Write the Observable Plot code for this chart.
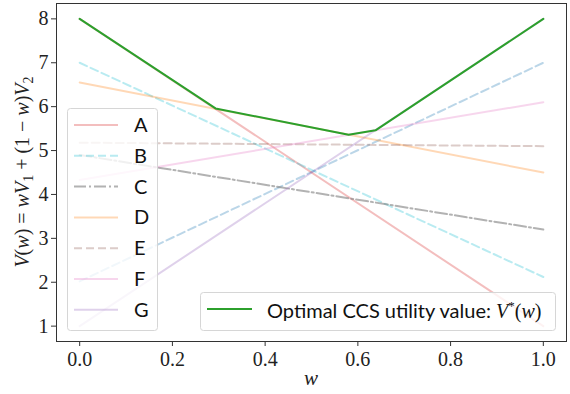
<!DOCTYPE html>
<html>
<head>
<meta charset="utf-8">
<script src="https://cdn.jsdelivr.net/npm/d3@7"></script>
<script src="https://cdn.jsdelivr.net/npm/@observablehq/plot@0.6"></script>
<style>
  html, body { margin: 0; padding: 0; background: white; }
  #chart svg { display: block; }
</style>
</head>
<body>
<div id="chart"></div>
<script>
// ---- data ----
const names    = ["A", "B", "C", "D", "E", "F", "G"];
const valueAt0 = [8.0, 7.0, 4.9, 6.55, 5.18, 4.33, 1.0];   // V(w) at w = 0
const valueAt1 = [1.0, 2.12, 3.2, 4.5, 5.1, 6.1, 8.0];    // V(w) at w = 1
const colors   = ["#d62728", "#17becf", "#7f7f7f", "#ff7f0e", "#8c564b", "#e377c2", "#9467bd"];
const opacities = [0.3, 0.3, 0.6, 0.3, 0.3, 0.3, 0.3];
const dashes   = [null, "8,4", "12,3,2,3", null, "8,4", null, null];

// unlabeled blue dashed policy
const extraAt0 = 2.02;
const extraAt1 = 7.0;

// optimal CCS upper envelope
const optW = [0, 0.293, 0.58, 0.638, 1];
const optV = [8.0, 5.96, 5.36, 5.46, 8.0];

const xTicks = [0, 0.2, 0.4, 0.6, 0.8, 1.0];
const yTicks = [1, 2, 3, 4, 5, 6, 7, 8];

// ---- tables ----
const policyRows = names.map((n, i) => [
  {name: n, w: 0, v: valueAt0[i]},
  {name: n, w: 1, v: valueAt1[i]}
]);
const extraRows = [{w: 0, v: extraAt0}, {w: 1, v: extraAt1}];
const optRows = optW.map((w, i) => ({w, v: optV[i]}));

const SANS = "Lato, 'Noto Sans', sans-serif";
const SERIF = "'Liberation Serif', 'DejaVu Serif', serif";

const marks = [];
marks.push(Plot.line(extraRows, {x: "w", y: "v", stroke: "#1f77b4", strokeOpacity: 0.3, strokeWidth: 2, strokeDasharray: "8,4"}));
names.forEach((n, i) => {
  marks.push(Plot.line(policyRows[i], {
    x: "w", y: "v", stroke: colors[i], strokeOpacity: opacities[i], strokeWidth: 2,
    strokeDasharray: dashes[i] || undefined
  }));
});
marks.push(Plot.line(optRows, {x: "w", y: "v", stroke: "#2ca02c", strokeWidth: 2}));
marks.push(Plot.frame({stroke: "#333", strokeWidth: 1}));
marks.push(Plot.axisX({ticks: xTicks, tickFormat: d => d.toFixed(1), tickSize: 5, tickPadding: 5, label: null, stroke: "#333", fontSize: 20, fontFamily: SERIF}));
marks.push(Plot.axisY({ticks: yTicks, tickFormat: d => String(d), tickSize: 5, tickPadding: 3, label: null, stroke: "#333", fontSize: 20, fontFamily: SERIF}));

const chart = Plot.plot({
  width: 570,
  height: 394,
  marginLeft: 56,
  marginRight: 4,
  marginTop: 3,
  marginBottom: 53,
  x: {domain: [-0.05, 1.05]},
  y: {domain: [0.65, 8.35]},
  style: {fontFamily: SERIF, fontSize: "20px", color: "#222", background: "white"},
  marks
});
document.getElementById("chart").appendChild(chart);

// ---- decorations: axis labels & legends ----
const svg = d3.select(chart);

// y label
const yl = svg.append("text")
  .attr("transform", "translate(29,172) rotate(-90)")
  .attr("text-anchor", "middle")
  .attr("font-family", SERIF)
  .attr("font-size", 20)
  .attr("fill", "#222");
function part(sel, txt, opts = {}) {
  const t = sel.append("tspan").text(txt);
  if (opts.italic) t.attr("font-style", "italic");
  if (opts.size) t.attr("font-size", opts.size);
  if (opts.dy) t.attr("dy", opts.dy);
  return t;
}
part(yl, "V", {italic: true});
part(yl, "(");
part(yl, "w", {italic: true});
part(yl, ") = ");
part(yl, "wV", {italic: true});
part(yl, "1", {size: 14, dy: 4});
part(yl, " + (1 − ", {dy: -4});
part(yl, "w", {italic: true});
part(yl, ")");
part(yl, "V", {italic: true});
part(yl, "2", {size: 14, dy: 4});

// x label
svg.append("text")
  .attr("x", 311).attr("y", 385)
  .attr("text-anchor", "middle")
  .attr("font-family", SERIF).attr("font-style", "italic")
  .attr("font-size", 21).attr("fill", "#222")
  .text("w");

// legend 1 (policies)
const lg = svg.append("g").attr("text-anchor", "start");
lg.append("rect")
  .attr("x", 67.5).attr("y", 108.5).attr("width", 90).attr("height", 222)
  .attr("rx", 3).attr("fill", "white").attr("fill-opacity", 0.8)
  .attr("stroke", "#d6d6d6").attr("stroke-width", 1);
names.forEach((n, i) => {
  const cy = 125 + i * 30.8;
  const l = lg.append("line")
    .attr("x1", 74).attr("x2", 118).attr("y1", cy).attr("y2", cy)
    .attr("stroke", colors[i]).attr("stroke-opacity", opacities[i]).attr("stroke-width", 2);
  if (dashes[i]) l.attr("stroke-dasharray", dashes[i]);
  lg.append("text")
    .attr("x", 134).attr("y", cy + 7)
    .attr("text-anchor", "start")
    .attr("font-family", SANS).attr("font-size", 20).attr("fill", "#111")
    .text(n);
});

// legend 2 (optimal)
const lg2 = svg.append("g").attr("text-anchor", "start");
lg2.append("rect")
  .attr("x", 200.5).attr("y", 292.5).attr("width", 355).attr("height", 38)
  .attr("rx", 3).attr("fill", "white").attr("fill-opacity", 0.8)
  .attr("stroke", "#d6d6d6").attr("stroke-width", 1);
lg2.append("line")
  .attr("x1", 207).attr("x2", 252).attr("y1", 309).attr("y2", 309)
  .attr("stroke", "#2ca02c").attr("stroke-width", 2);
const t2 = lg2.append("text")
  .attr("x", 267).attr("y", 318)
  .attr("text-anchor", "start")
  .attr("font-family", SANS).attr("font-size", 20).attr("fill", "#111");
t2.append("tspan").text("Optimal CCS utility value: ");
t2.append("tspan").attr("font-family", SERIF).attr("font-style", "italic").text("V");
t2.append("tspan").attr("font-family", SERIF).attr("font-size", 13).attr("dy", -8).text("*");
t2.append("tspan").attr("font-family", SERIF).attr("dy", 8).text("(");
t2.append("tspan").attr("font-family", SERIF).attr("font-style", "italic").text("w");
t2.append("tspan").attr("font-family", SERIF).text(")");
</script>
</body>
</html>
